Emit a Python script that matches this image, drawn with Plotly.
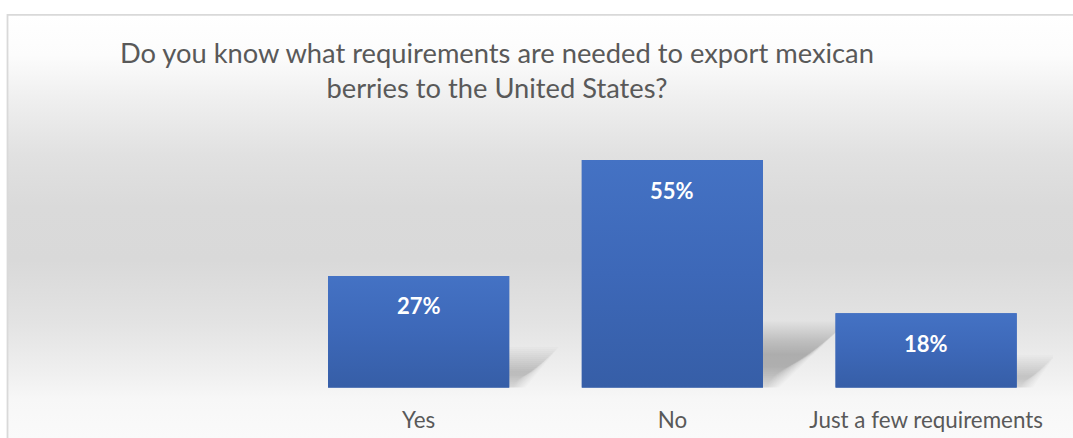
import plotly.graph_objects as go

# Survey answers
categories = ["Yes", "No", "Just a few requirements"]
shares = [27, 55, 18]
value_labels = ["27%", "55%", "18%"]
title_lines = [
    "Do you know what requirements are needed to export mexican",
    "berries to the United States?",
]

W, H = 1073, 438
PLOT_L, PLOT_R = 38, 1053          # plot area, px from left
PLOT_B, PLOT_T = 387.7, 139.3      # plot area, px from top
Y_MAX = 60
X_RANGE = [-1.5, 2.5]
BAR_W = 0.714
FONT = "Lato"
TEXT_GREY = "#595959"

px_x = (PLOT_R - PLOT_L) / (X_RANGE[1] - X_RANGE[0])
px_y = (PLOT_B - PLOT_T) / Y_MAX

fig = go.Figure()

# ---- chart panel with soft vertical grey gradient (full-figure axes, y up) ----
panel_stops = [  # (px from top, colour)
    (438, "#fafafa"), (399, "#f7f7f7"), (375, "#f0f0f0"), (323, "#e3e3e3"),
    (260, "#d9d9d9"), (207, "#dadada"), (155, "#e1e1e1"), (103, "#eeeeee"),
    (55, "#fcfcfc"), (15, "#ffffff"),
]
panel_scale = [[(H - p) / (H - 15), c] for p, c in panel_stops]
fig.add_trace(go.Scatter(
    x=[7.5, W + 10, W + 10, 7.5, 7.5],
    y=[-10, -10, H - 14.8, H - 14.8, -10],
    mode="lines", fill="toself",
    line=dict(color="#d9d9d9", width=1.8),
    fillgradient=dict(type="vertical", colorscale=panel_scale, start=0, stop=H - 15),
    hoverinfo="skip", xaxis="x", yaxis="y",
))

# ---- soft perspective shadows behind each bar (stacked translucent layers = blur) ----
hw = BAR_W / 2
for i, v in enumerate(shares):
    h_px = 0.22 * v * px_y
    s_px = 0.30 * v * px_y
    for e in range(-16, 18, 2):
        top = h_px + e
        bot = max(0, 4 - e)
        if top <= bot + 2:
            continue
        rb = hw * px_x + e + s_px * bot / top
        xs_px = [-hw * px_x, rb, hw * px_x + s_px + e, -hw * px_x + s_px, -hw * px_x]
        ys_px = [bot, bot, top, top, bot]
        fig.add_trace(go.Scatter(
            x=[i + p / px_x for p in xs_px],
            y=[p / px_y for p in ys_px],
            mode="lines", fill="toself", line=dict(width=0),
            fillcolor="rgba(0,0,0,0.016)",
            hoverinfo="skip", xaxis="x2", yaxis="y2",
        ))

# ---- bars ----
fig.add_trace(go.Bar(
    x=list(range(len(categories))), y=shares, width=BAR_W,
    marker=dict(color="#3e69b9", line=dict(width=0)),
    hoverinfo="skip", xaxis="x3", yaxis="y3",
))
# subtle top-to-bottom shading on each bar
for i, v in enumerate(shares):
    fig.add_trace(go.Scatter(
        x=[i - hw, i + hw, i + hw, i - hw, i - hw],
        y=[0, 0, v, v, 0],
        mode="lines", fill="toself", line=dict(width=0),
        fillgradient=dict(type="vertical", start=0, stop=v,
                          colorscale=[[0, "#365ea7"], [0.5, "#3d68b8"], [1, "#4472c4"]]),
        hoverinfo="skip", xaxis="x3", yaxis="y3",
    ))

# value labels inside the bars
for i, (v, lab) in enumerate(zip(shares, value_labels)):
    fig.add_annotation(
        x=i, y=v, xref="x3", yref="y3", yshift=-30, yanchor="middle",
        text=f"<b>{lab}</b>", showarrow=False,
        font=dict(family=FONT, size=22, color="white"),
    )

# title
fig.add_annotation(
    x=496.5 / W, y=1 - 70 / H, xref="paper", yref="paper",
    xanchor="center", yanchor="middle", align="center",
    text="<br>".join(title_lines), showarrow=False,
    font=dict(family=FONT, size=27.3, color=TEXT_GREY),
)

dom_x = [PLOT_L / W, PLOT_R / W]
dom_y = [(H - PLOT_B) / H, (H - PLOT_T) / H]
hidden = dict(visible=False, fixedrange=True)
fig.update_layout(
    width=W, height=H,
    margin=dict(l=0, r=0, t=0, b=0, pad=0),
    paper_bgcolor="white", plot_bgcolor="rgba(0,0,0,0)",
    showlegend=False,
    xaxis=dict(domain=[0, 1], range=[0, W], **hidden),
    yaxis=dict(domain=[0, 1], range=[0, H], **hidden),
    xaxis2=dict(domain=dom_x, range=X_RANGE, anchor="y2", **hidden),
    yaxis2=dict(domain=dom_y, range=[0, Y_MAX], anchor="x2", **hidden),
    xaxis3=dict(domain=dom_x, range=X_RANGE, anchor="y3", fixedrange=True,
                tickvals=list(range(len(categories))), ticktext=categories,
                showgrid=False, zeroline=False, showline=False, ticks="",
                ticklabelstandoff=17,
                tickfont=dict(family=FONT, size=22.4, color=TEXT_GREY)),
    yaxis3=dict(domain=dom_y, range=[0, Y_MAX], anchor="x3", **hidden),
)

fig.write_html("out.html")
